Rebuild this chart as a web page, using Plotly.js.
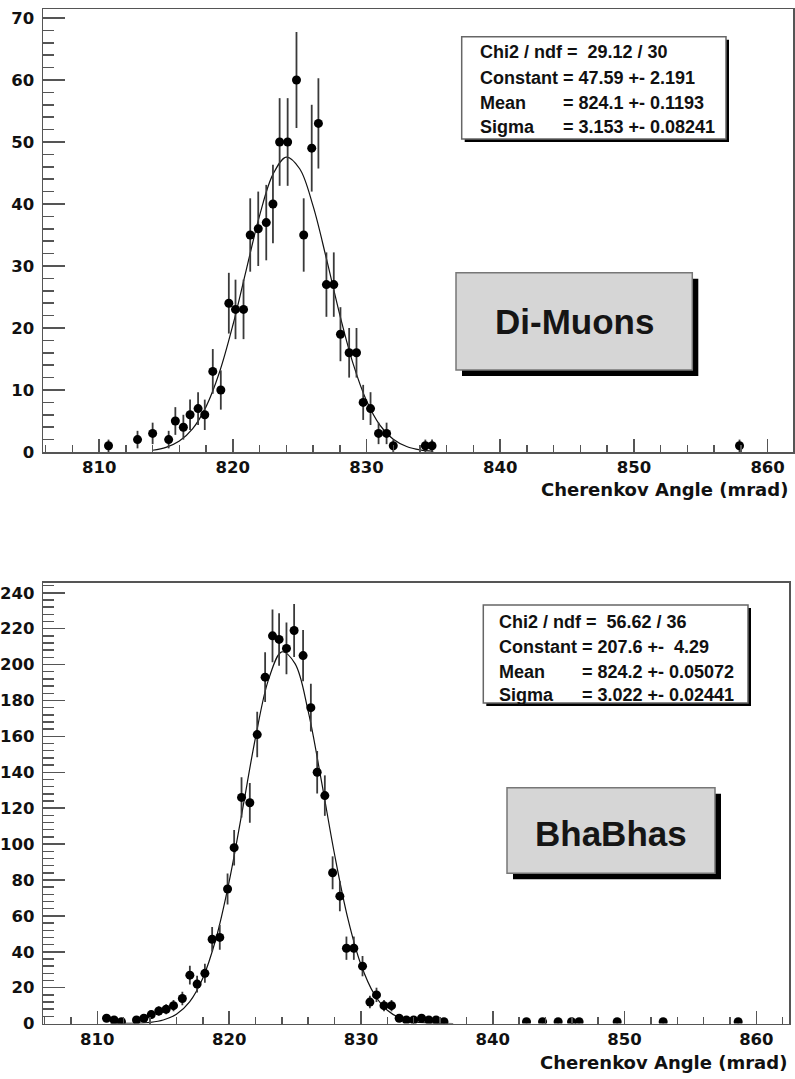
<!DOCTYPE html>
<html><head><meta charset="utf-8">
<script src="https://cdn.plot.ly/plotly-3.0.1.min.js"></script>
<style>html,body{margin:0;padding:0;background:#fff}#chart{width:795px;height:1079px}</style>
</head><body><div id="chart"></div>
<script>
// ---- Di-Muons histogram (bin centres, counts) ----
const muonX = [810.7, 812.87, 814.0, 815.2, 815.7, 816.3, 816.8, 817.4, 817.9, 818.5, 819.1, 819.7, 820.2, 820.8, 821.3, 821.9, 822.5, 823.0, 823.5, 824.1, 824.76, 825.3, 825.9, 826.4, 827.0, 827.55, 828.05, 828.7, 829.25, 829.75, 830.3, 830.9, 831.5, 832.0, 834.4, 834.9, 857.9];
const muonY = [1, 2, 3, 2, 5, 4, 6, 7, 6, 13, 10, 24, 23, 23, 35, 36, 37, 40, 50, 50, 60, 35, 49, 53, 27, 27, 19, 16, 16, 8, 7, 3, 3, 1, 1, 1, 1];
// fitted gaussian curve
const muonFitX = [814, 815, 816, 817, 818, 819, 820, 821, 822, 823, 824, 825, 826, 827, 828, 829, 830, 831, 832, 833, 834, 835];
const muonFitY = [0.28, 0.74, 1.76, 3.77, 7.32, 12.86, 20.44, 29.35, 38.12, 44.78, 47.57, 45.69, 39.69, 31.18, 22.14, 14.22, 8.27, 4.34, 2.06, 0.89, 0.34, 0.12];
const muonChi = "Chi2 / ndf =  29.12 / 30";
const muonParNames = ["Constant", "Mean", "Sigma"];
const muonParVals = ["= 47.59 +- 2.191", "= 824.1 +- 0.1193", "= 3.153 +- 0.08241"];
const muonLabel = "Di-Muons";

// ---- BhaBhas histogram ----
const bhaX = [810.7, 811.27, 811.83, 812.97, 813.53, 814.09, 814.66, 815.22, 815.78, 816.45, 817.02, 817.57, 818.16, 818.71, 819.29, 819.88, 820.38, 820.94, 821.57, 822.13, 822.73, 823.29, 823.79, 824.35, 824.93, 825.61, 826.2, 826.68, 827.26, 827.85, 828.4, 828.9, 829.46, 830.12, 830.68, 831.18, 831.75, 832.32, 832.9, 833.45, 834.0, 834.6, 835.15, 835.7, 836.3, 842.56, 843.78, 844.96, 845.98, 846.55, 849.44, 852.93, 858.62];
const bhaY = [3, 2, 1, 2, 3, 5, 7, 8, 10, 14, 27, 22, 28, 47, 48, 75, 98, 126, 123, 161, 193, 216, 214, 209, 219, 205, 176, 140, 127, 84, 71, 42, 42, 32, 12, 16, 10, 10, 3, 2, 2, 3, 2, 2, 1, 1, 1, 1, 1, 1, 1, 1, 1];
const bhaFitX = [811, 812, 813, 814, 815, 816, 817, 818, 819, 820, 821, 822, 823, 824, 825, 826, 827, 828, 829, 830, 831, 832, 833, 834, 835, 836, 837];
const bhaFitY = [0.02, 0.06, 0.22, 0.70, 2.02, 5.23, 12.15, 25.3, 47.25, 79.03, 118.5, 159.3, 191.9, 207.1, 200.5, 173.9, 135.2, 94.2, 58.8, 32.9, 16.5, 7.42, 2.99, 1.08, 0.35, 0.10, 0.03];
const bhaChi = "Chi2 / ndf =  56.62 / 36";
const bhaParNames = ["Constant", "Mean", "Sigma"];
const bhaParVals = ["= 207.6 +-  4.29", "= 824.2 +- 0.05072", "= 3.022 +- 0.02441"];
const bhaLabel = "BhaBhas";

const xTitle = "Cherenkov Angle (mrad)";

// ---------------------------------------------------------------
const W = 795, H = 1079;
const PX = v => v / W;
const PY = v => 1 - v / H;
const nb = s => s.replace(/ /g, "\u00a0");
const axCol = "#555";
const tickFont = {family: "DejaVu Sans", size: 16.5, weight: "bold", color: "#111"};

function pts(x, y, xa, ya) {
  return {x: x, y: y, type: "scatter", mode: "markers", xaxis: xa, yaxis: ya,
    marker: {color: "#000", size: 9},
    error_y: {type: "sqrt", visible: true, color: "#3a3a3a", thickness: 1.8, width: 0},
    hoverinfo: "x+y", showlegend: false};
}
function fit(x, y, xa, ya) {
  return {x: x, y: y, type: "scatter", mode: "lines", xaxis: xa, yaxis: ya,
    line: {color: "#111", width: 1.2, shape: "spline"}, hoverinfo: "skip", showlegend: false};
}

function xAxis(dom, rng, anchor) {
  return {domain: dom, range: rng, anchor: anchor, showline: true, mirror: true,
    linecolor: axCol, linewidth: 1.5, ticks: "inside", ticklen: 13, tickwidth: 1.5, tickcolor: axCol,
    tick0: 800, dtick: 10,
    minor: {tick0: 800, dtick: 2, ticks: "inside", ticklen: 7, tickwidth: 1.5, tickcolor: axCol, showgrid: false},
    showgrid: false, zeroline: false, tickfont: tickFont, ticklabelstandoff: 0, fixedrange: true};
}
function yAxis(dom, rng, anchor, major, minor) {
  return {domain: dom, range: rng, anchor: anchor, showline: true, mirror: true,
    linecolor: axCol, linewidth: 1.5, ticks: "inside", ticklen: 22, tickwidth: 1.5, tickcolor: axCol,
    tick0: 0, dtick: major,
    minor: {tick0: 0, dtick: minor, ticks: "inside", ticklen: 11, tickwidth: 1.5, tickcolor: axCol, showgrid: false},
    showgrid: false, zeroline: false, tickfont: tickFont, ticklabelstandoff: 4, fixedrange: true};
}

const shapes = [];
const annotations = [];
function rect(x0, y0, x1, y1, fill, line, lw) {
  shapes.push({type: "rect", xref: "paper", yref: "paper", x0: PX(x0), x1: PX(x1), y0: PY(y1), y1: PY(y0),
    fillcolor: fill, line: {color: line, width: lw}, layer: "above"});
}
function txt(s, x, y, xanchor, font) {
  annotations.push({text: nb(s), xref: "paper", yref: "paper", x: PX(x), y: PY(y), xanchor: xanchor, yanchor: "middle",
    showarrow: false, font: font});
}
const statFont = {family: "Liberation Sans", size: 18, weight: "bold", color: "#111"};
function statsBox(l, t, r, b, tx, eqx, rows, chi, names, vals) {
  rect(l + 3, t + 3, r + 3, b + 3, "#000", "#000", 0);
  rect(l, t, r, b, "#fff", "#666", 1.5);
  txt(chi, tx, rows[0], "left", statFont);
  for (let i = 0; i < names.length; i++) {
    txt(names[i], tx, rows[i + 1], "left", statFont);
    txt(vals[i], eqx, rows[i + 1], "left", statFont);
  }
}
function labelBox(l, t, r, b, s, cx, cy) {
  rect(l + 6, t + 6, r + 6, b + 6, "#000", "#000", 0);
  rect(l, t, r, b, "#d6d6d6", "#777", 1.5);
  txt(s, cx, cy, "center", {family: "Liberation Sans", size: 35, weight: "bold", color: "#151515"});
}

statsBox(461.7, 36.7, 726, 139, 478, 561, [52, 77.5, 103, 127.5], muonChi, muonParNames, muonParVals);
labelBox(456, 272.7, 692.3, 370, muonLabel, 574, 322);
statsBox(483.3, 605, 748, 703, 496.7, 580, [622, 647, 671.5, 695], bhaChi, bhaParNames, bhaParVals);
labelBox(507, 787.7, 715, 873.3, bhaLabel, 611, 833);

const titleFont = {family: "DejaVu Sans", size: 18, weight: "bold", color: "#111"};
txt(xTitle, 790, 489, "right", titleFont);
txt(xTitle, 789, 1062, "right", titleFont);

const data = [
  fit(muonFitX, muonFitY, "x", "y"),
  pts(muonX, muonY, "x", "y"),
  fit(bhaFitX, bhaFitY, "x2", "y2"),
  pts(bhaX, bhaY, "x2", "y2")
];

const layout = {
  width: W, height: H, margin: {l: 0, r: 0, t: 0, b: 0},
  paper_bgcolor: "#fff", plot_bgcolor: "#fff", showlegend: false,
  xaxis: xAxis([43 / W, 793 / W], [805.8, 861.9], "y"),
  yaxis: yAxis([1 - 452 / H, 1 - 9 / H], [0, 71.45], "x", 10, 2),
  xaxis2: xAxis([43.3 / W, 789.3 / W], [805.9, 862.5], "y2"),
  yaxis2: yAxis([1 - 1023.6 / H, 1 - 582.7 / H], [0, 245.6], "x2", 20, 4),
  shapes: shapes, annotations: annotations
};

Plotly.newPlot("chart", data, layout, {displayModeBar: false, staticPlot: true});
</script>
</body></html>
